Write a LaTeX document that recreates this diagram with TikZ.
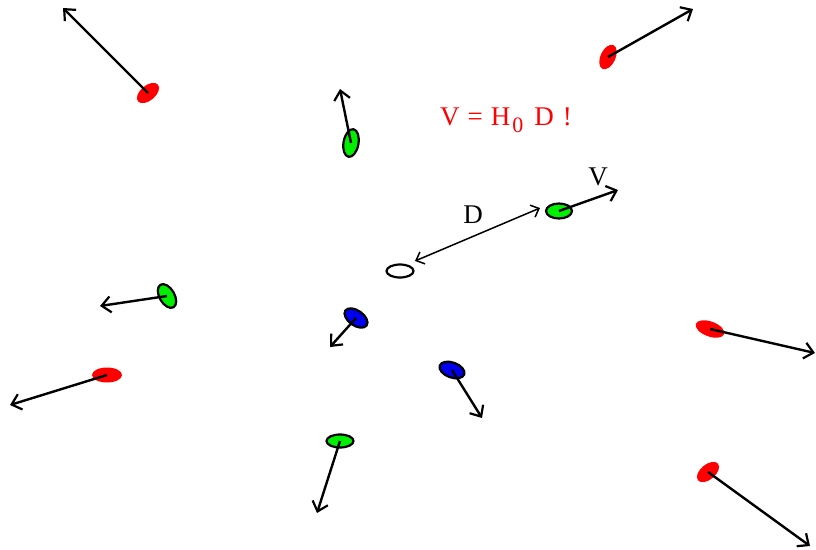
\documentclass[tikz,border=0pt]{standalone}
\usepackage{fontspec}
\setmainfont{Liberation Serif}
\usetikzlibrary{shapes.geometric,arrows.meta}
\definecolor{gred}{RGB}{255,0,0}
\definecolor{ggreen}{RGB}{0,238,0}
\definecolor{gblue}{RGB}{0,0,238}
\tikzset{
  gal/.style={ellipse, inner sep=0pt, minimum width=26pt, minimum height=15pt},
  galred/.style={gal, fill=gred},
  galgreen/.style={gal, fill=ggreen, draw=black, line width=2.2pt},
  galblue/.style={gal, fill=gblue, draw=black, line width=2.2pt},
  galopen/.style={gal, fill=white, draw=black, line width=2.2pt},
  vel/.style={line width=2.4pt, -{Straight Barb[length=9pt,width=16pt,line width=2.2pt]}},
  dist/.style={line width=1.5pt, {Straight Barb[length=7pt,width=13pt]}-{Straight Barb[length=7pt,width=13pt]}},
  lbl/.style={font=\fontsize{27}{32}\selectfont, inner sep=0pt}
}
\begin{document}
\begin{tikzpicture}[x=1pt,y=-1pt]
\useasboundingbox (0,0) rectangle (816,549);
% galaxies
\node[galred, rotate=40] (r1) at (148,93) {};
\node[galred, rotate=65] (r2) at (608,57) {};
\node[galred, rotate=0, minimum width=30pt] (r3) at (107,375) {};
\node[galred, rotate=-20, minimum width=30pt] (r4) at (710,329) {};
\node[galred, rotate=40] (r5) at (708,472) {};
\node[galgreen, rotate=80, minimum width=28pt, minimum height=15pt] (g1) at (351,143) {};
\node[galgreen, rotate=0] (g2) at (559,211) {};
\node[galgreen, rotate=-60] (g3) at (167,296) {};
\node[galgreen, rotate=0, minimum width=27pt, minimum height=13pt] (g4) at (340,441) {};
\node[galblue, rotate=-35] (b1) at (356,318) {};
\node[galblue, rotate=-20] (b2) at (452,370) {};
\node[galopen, minimum width=27pt, minimum height=13pt] (o) at (400,271) {};
% arrow tips
\coordinate (t1) at (63,8);
\coordinate (t2) at (693,9);
\coordinate (t3) at (10,405);
\coordinate (t4) at (815,353);
\coordinate (t5) at (810,546);
\coordinate (tg1) at (340,89);
\coordinate (tg2) at (618,190);
\coordinate (tg3) at (100,306);
\coordinate (tg4) at (317,513);
\coordinate (tb1) at (330,347);
\coordinate (tb2) at (482,418);
\coordinate (ds) at (415,261);
\coordinate (de) at (540,208);
% velocities
\draw[vel] (r1.center) -- (t1);
\draw[vel] (r2.center) -- (t2);
\draw[vel] (r3.center) -- (t3);
\draw[vel] (r4.center) -- (t4);
\draw[vel] (r5.center) -- (t5);
\draw[vel] (g1.center) -- (tg1);
\draw[vel] (g2.center) -- (tg2);
\draw[vel] (g3.center) -- (tg3);
\draw[vel] (g4.center) -- (tg4);
\draw[vel] (b1.center) -- (tb1);
\draw[vel] (b2.center) -- (tb2);
\draw[dist] (ds) -- (de);
% labels
\node[lbl] (lD) at (473,215) {D};
\node[lbl] (lV) at (598,177) {V};
\node[lbl, text=gred, anchor=west] (law) at (440,120) {V\hspace{8pt}=\hspace{8pt}H\hspace{2pt}\raisebox{-7pt}{\fontsize{22}{26}\selectfont 0}\hspace{11pt}D\hspace{9pt}!};
\end{tikzpicture}
\end{document}
